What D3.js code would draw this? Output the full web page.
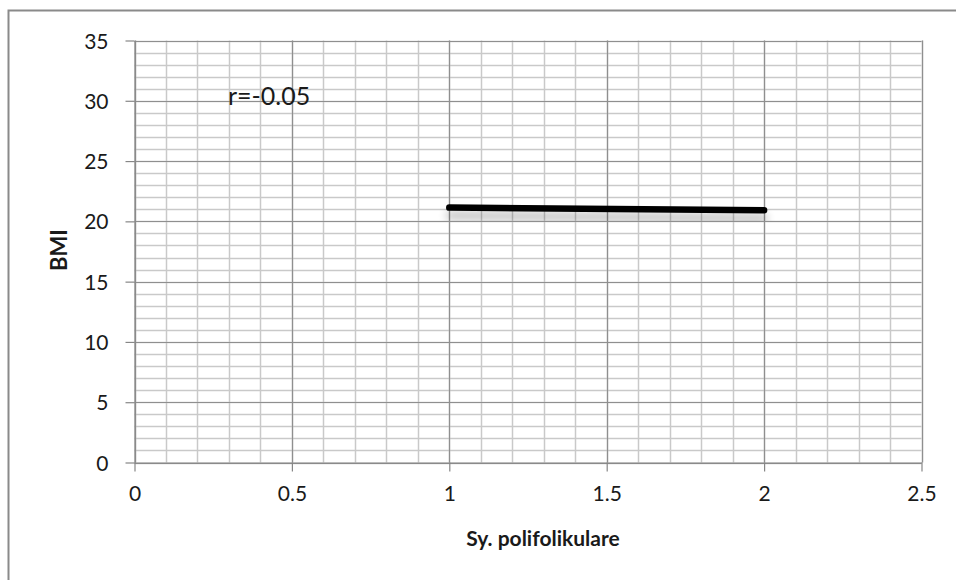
<!DOCTYPE html>
<html>
<head>
<meta charset="utf-8">
<script src="https://cdn.jsdelivr.net/npm/d3@7"></script>
<style>
  html, body { margin: 0; padding: 0; background: #fff; }
  svg { display: block; }
  text { font-family: Lato, "Liberation Sans", sans-serif; fill: #1a1a1a; }
</style>
</head>
<body>
<svg id="chart" width="956" height="580"></svg>
<script>
// Trend line endpoints (x = Sy. polifolikulare, y = BMI)
const trendX = [1, 2];
const trendY = [21.14, 20.93];
const xTicks = [0, 0.5, 1, 1.5, 2, 2.5];
const yTicks = [0, 5, 10, 15, 20, 25, 30, 35];
const xTickLabels = ["0", "0.5", "1", "1.5", "2", "2.5"];
const yTickLabels = ["0", "5", "10", "15", "20", "25", "30", "35"];
const xMinor = d3.range(0, 2.5001, 0.1);
const yMinor = d3.range(0, 35.001, 1);
const annotation = "r=-0.05";
const xTitle = "Sy. polifolikulare";
const yTitle = "BMI";

const FONT = "Lato, 'Liberation Sans', sans-serif";
const svg = d3.select("#chart");

// chart frame
svg.append("rect")
  .attr("x", 8.5).attr("y", 10.5)
  .attr("width", 1000).attr("height", 1000)
  .attr("fill", "#fff").attr("stroke", "#8a8a8a").attr("stroke-width", 2);

const plot = { left: 134.5, right: 921.5, top: 40.5, bottom: 462.5 };
const x = d3.scaleLinear().domain([0, 2.5]).range([plot.left, plot.right]);
const y = d3.scaleLinear().domain([0, 35]).range([plot.bottom, plot.top]);

const defs = svg.append("defs");
const shadow = defs.append("filter").attr("id", "shadow")
  .attr("x", "-10%").attr("y", "-300%").attr("width", "120%").attr("height", "800%");
shadow.append("feGaussianBlur").attr("in", "SourceAlpha").attr("stdDeviation", 4.5).attr("result", "blur");
shadow.append("feOffset").attr("in", "blur").attr("dx", 0).attr("dy", 8).attr("result", "off");
shadow.append("feComponentTransfer").attr("in", "off").attr("result", "soft")
  .append("feFuncA").attr("type", "linear").attr("slope", 0.3);
const merge = shadow.append("feMerge");
merge.append("feMergeNode").attr("in", "soft");
merge.append("feMergeNode").attr("in", "SourceGraphic");

// minor gridlines
const grid = svg.append("g");
grid.selectAll(".vminor").data(xMinor).join("line")
  .attr("x1", d => Math.round(x(d)) + 0.5).attr("x2", d => Math.round(x(d)) + 0.5)
  .attr("y1", plot.top).attr("y2", plot.bottom)
  .attr("stroke", "#c9c9c9").attr("stroke-width", 1.5);
grid.selectAll(".hminor").data(yMinor).join("line")
  .attr("x1", plot.left).attr("x2", plot.right)
  .attr("y1", d => Math.round(y(d)) + 0.5).attr("y2", d => Math.round(y(d)) + 0.5)
  .attr("stroke", "#c9c9c9").attr("stroke-width", 1.5);

// major gridlines
grid.selectAll(".vmajor").data(xTicks).join("line")
  .attr("x1", d => Math.round(x(d)) + 0.5).attr("x2", d => Math.round(x(d)) + 0.5)
  .attr("y1", plot.top).attr("y2", plot.bottom)
  .attr("stroke", "#8f8f8f").attr("stroke-width", 1.2);
grid.selectAll(".hmajor").data(yTicks).join("line")
  .attr("x1", plot.left).attr("x2", plot.right)
  .attr("y1", d => Math.round(y(d)) + 0.5).attr("y2", d => Math.round(y(d)) + 0.5)
  .attr("stroke", "#8f8f8f").attr("stroke-width", 1.2);

// axes
const xAxis = d3.axisBottom(x).tickValues(xTicks)
  .tickFormat((d, i) => xTickLabels[i]).tickSize(9).tickSizeOuter(0).tickPadding(15);
const yAxis = d3.axisLeft(y).tickValues(yTicks)
  .tickFormat((d, i) => yTickLabels[i]).tickSize(9).tickSizeOuter(0).tickPadding(17);

const gx = svg.append("g").attr("transform", `translate(0,${plot.bottom})`).call(xAxis);
const gy = svg.append("g").attr("transform", `translate(${plot.left},0)`).call(yAxis);
[gx, gy].forEach(g => {
  g.attr("font-family", FONT).attr("font-size", 21);
  g.select(".domain").attr("stroke", "#868686").attr("stroke-width", 1.2);
  g.selectAll(".tick line").attr("stroke", "#868686").attr("stroke-width", 1.2);
  g.selectAll(".tick text").style("font-size", "21px").attr("fill", "#1a1a1a");
});
gy.selectAll(".tick text").attr("dy", "0.36em");

// trend line
const line = d3.line().x(d => x(d[0])).y(d => y(d[1]));
svg.append("path")
  .datum(trendX.map((v, i) => [v, trendY[i]]))
  .attr("d", line)
  .attr("fill", "none").attr("stroke", "#000").attr("stroke-width", 6.5)
  .attr("stroke-linecap", "round")
  .attr("filter", "url(#shadow)");

// correlation annotation
svg.append("text")
  .attr("x", x(0.3) - 1).attr("y", 105)
  .style("font-size", "25px").text(annotation);

// axis titles
svg.append("text")
  .attr("x", 543).attr("y", 546)
  .attr("text-anchor", "middle").style("font-size", "21px").attr("font-weight", "bold")
  .text(xTitle);
svg.append("text")
  .attr("transform", `translate(67,250) rotate(-90)`)
  .attr("text-anchor", "middle").style("font-size", "22px").attr("font-weight", "bold")
  .text(yTitle);
</script>
</body>
</html>
